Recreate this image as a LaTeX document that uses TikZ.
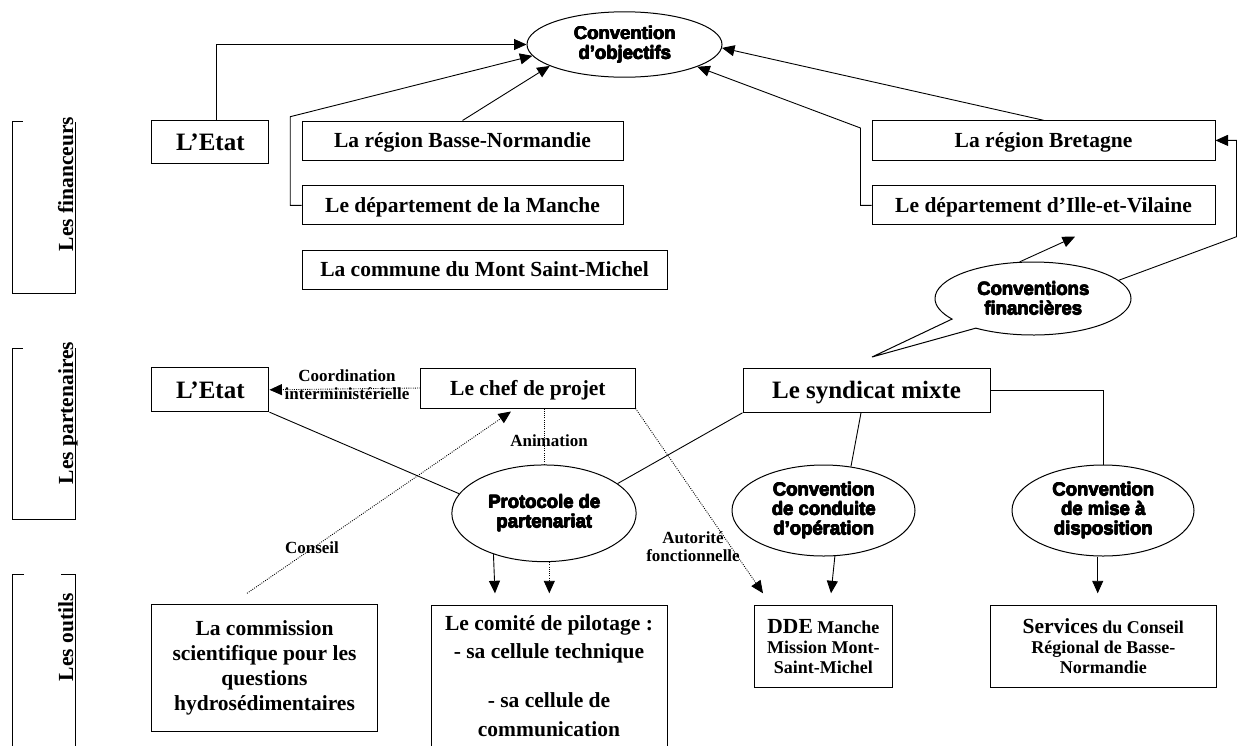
\documentclass[tikz,border=0pt]{standalone}
\usepackage{fontspec}
\setmainfont{Liberation Serif}
\newfontfamily\heavyfont{Liberation Sans}
\usetikzlibrary{arrows.meta,shapes.geometric,shapes.callouts}
\newcommand\thk[1]{\leavevmode\rlap{#1}\rlap{\kern0.8pt #1}\rlap{\raisebox{0.5pt}{\kern0.4pt #1}}\rlap{\raisebox{-0.3pt}{\kern0.4pt #1}}#1}
\tikzset{
  box/.style={draw, line width=1pt, inner sep=0pt, align=center, font=\bfseries\fontsize{21.5}{25}\selectfont},
  oneline/.style={text height=14.2pt, text depth=0pt},
  bigtxt/.style={font=\bfseries\fontsize{25}{28}\selectfont, text height=16.5pt, text depth=0pt},
  ell/.style={ellipse, draw, line width=1pt, inner sep=0pt, align=center, font=\heavyfont\bfseries\fontsize{18.5}{19.5}\selectfont},
  conn/.style={line width=0.9pt},
  arr/.style={conn, -{Triangle[length=12.5pt,width=11pt]}},
  dots/.style={line width=0.9pt, dash pattern=on 0.9pt off 1.3pt},
  darr/.style={dots, -{Triangle[length=12.5pt,width=11pt]}},
  lbl/.style={font=\bfseries\fontsize{17}{18}\selectfont, align=center, inner sep=0pt},
  side/.style={font=\bfseries\fontsize{21.5}{25}\selectfont, rotate=90, inner sep=0pt, anchor=base east},
  frame/.style={line width=1pt},
}
\begin{document}
\begin{tikzpicture}[x=1pt,y=-1pt]
\useasboundingbox (0,0) rectangle (1238,745);
\clip (0,0) rectangle (1238,745);

% ---- side brackets
\draw[frame] (22.5,121.7) -- (12,121.7) -- (12,293.3) -- (75,293.3) -- (75,121.7);
\node[side] (lf) at (73,116.7) {Les financeurs};
\draw[frame] (22.5,348) -- (12,348) -- (12,519) -- (75,519) -- (75,348);
\node[side] (lp) at (73,341.7) {Les partenaires};
\draw[frame] (24,574.3) -- (12,574.3) -- (12,750);
\draw[frame] (61,574.3) -- (75,574.3) -- (75,750);
\node[side] (lo) at (73,593) {Les outils};

% ---- financeurs
\node[box, bigtxt, minimum width=117.3pt, minimum height=43.3pt] (etat1) at (210.3,142.3) {L’Etat};
\node[box, oneline, minimum width=321pt, minimum height=39pt] (bn) at (462.5,140.5) {La région Basse-Normandie};
\node[box, oneline, minimum width=321pt, minimum height=39.3pt] (manche) at (462.5,205.3) {Le département de la Manche};
\node[box, oneline, minimum width=365pt, minimum height=39.3pt] (commune) at (484.5,269.7) {La commune du Mont Saint-Michel};
\node[box, oneline, minimum width=343pt, minimum height=39.3pt] (br) at (1043.5,140.4) {La région Bretagne};
\node[box, oneline, minimum width=343pt, minimum height=39.3pt] (iv) at (1043.5,205.3) {Le département d’Ille-et-Vilaine};
\node[ell, minimum width=195pt, minimum height=65.4pt] (co) at (624.5,44.5) {\thk{Convention}\\\thk{d’objectifs}};

% ---- partenaires
\node[box, bigtxt, minimum width=117.3pt, minimum height=43.7pt] (etat2) at (210.3,389.8) {L’Etat};
\node[box, oneline, minimum width=214.3pt, minimum height=40pt] (chef) at (527.9,388) {Le chef de projet};
\node[box, bigtxt, minimum width=247pt, minimum height=44pt] (sm) at (866.5,390.3) {Le syndicat mixte};
\coordinate (cftip) at (872,357);
\node[ell, ellipse callout, callout absolute pointer={(cftip)}, callout pointer arc=20,
      minimum width=196pt, minimum height=73pt] (cf) at (1033,298.5) {\thk{Conventions}\\\thk{financières}};

% ---- outils (conventions)
\node[ell, minimum width=184.3pt, minimum height=96.7pt] (pp) at (544,513.3) {\thk{Protocole de}\\\thk{partenariat}};
\node[ell, minimum width=183pt, minimum height=91pt] (cc) at (823.5,510.5) {\thk{Convention}\\\thk{de conduite}\\\thk{d’opération}};
\node[ell, minimum width=182pt, minimum height=91pt] (md) at (1103,510.5) {\thk{Convention}\\\thk{de mise à}\\\thk{disposition}};

% ---- outils (boxes)
\node[box, minimum width=226.2pt, minimum height=126.7pt] (cs) at (264.5,668.3)
  {La commission\\scientifique pour les\\questions\\hydrosédimentaires};
\node[draw, line width=1pt, minimum width=236pt, minimum height=170pt, anchor=north] (cp) at (549,605) {};
\node[font=\bfseries\fontsize{21.5}{25}\selectfont, align=center, inner sep=0pt, anchor=north] (cpt) at (549,615.5)
  {Le comité de pilotage :\\[3pt]- sa cellule technique\\[24pt]- sa cellule de\\[4pt]communication};
\node[box, font=\bfseries\fontsize{18}{20}\selectfont, minimum width=138.8pt, minimum height=82.3pt] (dde) at (823.4,646.2)
  {{\fontsize{21.5}{20}\selectfont DDE} Manche\\Mission Mont-\\Saint-Michel};
\node[box, font=\bfseries\fontsize{18}{20}\selectfont, minimum width=225.5pt, minimum height=82.3pt] (svc) at (1103.3,646.2)
  {{\fontsize{21.5}{20}\selectfont Services} du Conseil\\Régional de Basse-\\Normandie};

% ---- labels
\node[lbl] (lco) at (347,385) {Coordination\\interministérielle};
\node[lbl] (lan) at (549,441) {Animation};
\node[lbl] (lcs) at (312,548) {Conseil};
\node[lbl] (lau) at (693,547) {Autorité\\fonctionnelle};

% ---- coordinates for free ends
\coordinate (rc) at (1236.5,236.7);
\coordinate (ivtip) at (1075,236.7);
\coordinate (tipA) at (495,593.3);
\coordinate (tipB) at (549.3,593.3);
\coordinate (tipC) at (831,593.3);
\coordinate (tipD) at (1097.7,593.3);
\coordinate (tipE) at (763,593.3);
\coordinate (cstart) at (247,593.3);
\coordinate (cend) at (511,411.5);

% ---- connectors to Convention d'objectifs
\draw[arr] ([xshift=6pt]etat1.north) |- (co.west);
\draw[arr] (manche.west) -- ++(-11.3,0) -- ++(0,-88.6) -- (co.187);
\draw[arr] (bn.north) -- (co.196);
\draw[arr] (br.north) -- (co.358);
\draw[arr] (iv.west) -- ++(-11,0) -- ++(0,-77.3) -- (co.343);

% ---- conventions financieres
\draw[arr] (cf.12) -- (rc) |- (br.east);
\draw[arr] (cf.110) -- (ivtip);

% ---- partenaires
\draw[darr] (chef.west) -- (etat2.east);
\draw[conn] (etat2.south east) -- (pp.167);
\draw[conn] (sm.south west) -- (pp.22);
\draw[dots] (pp.north) -- (pp.north |- chef.south);
\draw[conn] ([xshift=-5.5pt]sm.south) -- (cc.58);
\draw[conn] (sm.east) -| (md.north);

% ---- to outils
\draw[arr] (pp.219.6) -- (tipA);
\draw[darr] (pp.south -| tipB) -- (tipB);
\draw[arr] (cc.284) -- (tipC);
\draw[arr] (md.south -| tipD) -- (tipD);
\draw[darr] (chef.south east) -- (tipE);
\draw[darr] (cstart) -- (cend);
\end{tikzpicture}
\end{document}
